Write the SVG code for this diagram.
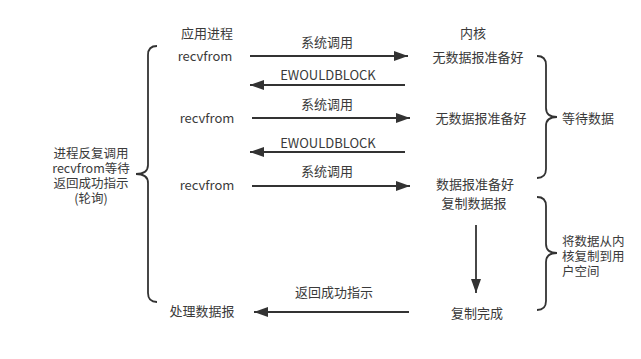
<svg xmlns="http://www.w3.org/2000/svg" width="641" height="359" viewBox="0 0 641 359">
<style>
text{font-family:"Noto Sans CJK SC","Noto Sans",sans-serif;font-size:13px;fill:#3a3a3a;dominant-baseline:central;text-anchor:middle}
.l{text-anchor:start}
.m{font-size:12.5px}
.c{stroke:#333;stroke-width:1.8;fill:none}
.b{stroke:#333;stroke-width:1.8;fill:none}
</style>
<defs>
<marker id="ah" viewBox="0 0 14 10" refX="14" refY="5" markerWidth="14" markerHeight="10" markerUnits="userSpaceOnUse" orient="auto">
<path d="M0,0 L14,5 L0,10 Z" fill="#333"/>
</marker>
</defs>
<rect width="641" height="359" fill="#fff"/>
<g id="headers">
<text x="207" y="32">应用进程</text>
<text x="473" y="32">内核</text>
</g>
<g id="app">
<text x="205" y="55">recvfrom</text>
<text x="207" y="117">recvfrom</text>
<text x="207" y="184">recvfrom</text>
<text x="202" y="310">处理数据报</text>
</g>
<g id="kernel">
<text x="478" y="56">无数据报准备好</text>
<text x="481" y="117">无数据报准备好</text>
<text x="475" y="183">数据报准备好</text>
<text x="474" y="202">复制数据报</text>
<text x="477" y="312">复制完成</text>
</g>
<g id="labels">
<text x="327" y="41">系统调用</text>
<text x="328" y="74">EWOULDBLOCK</text>
<text x="327" y="103">系统调用</text>
<text x="328" y="142">EWOULDBLOCK</text>
<text x="327" y="170">系统调用</text>
<text x="334" y="291">返回成功指示</text>
</g>
<g id="left-note">
<path class="b" d="M157,46 Q148,46 148,55 L148,165 Q148,174 136,174 Q148,174 148,183 L148,293 Q148,302 157,302"/>
<text class="m" x="91" y="152">进程反复调用</text>
<text class="m" x="91" y="167">recvfrom等待</text>
<text class="m" x="91" y="182">返回成功指示</text>
<text class="m" x="91" y="197">(轮询)</text>
</g>
<g id="wait-note">
<path class="b" d="M537,56 Q546,56 546,65 L546,108 Q546,117 557,117 Q546,117 546,126 L546,169 Q546,178 537,178"/>
<text class="l" x="562" y="117">等待数据</text>
</g>
<g id="copy-note">
<path class="b" d="M537,197 Q546,197 546,206 L546,244 Q546,253 557,253 Q546,253 546,262 L546,301 Q546,310 537,310"/>
<text class="l m" x="562" y="240">将数据从内</text>
<text class="l m" x="562" y="255">核复制到用</text>
<text class="l m" x="562" y="270">户空间</text>
</g>
<g id="connectors">
<line class="c" x1="250" y1="56" x2="408" y2="56" marker-end="url(#ah)"/>
<line class="c" x1="405" y1="85" x2="250" y2="85" marker-end="url(#ah)"/>
<line class="c" x1="252" y1="118" x2="410" y2="118" marker-end="url(#ah)"/>
<line class="c" x1="405" y1="152" x2="250" y2="152" marker-end="url(#ah)"/>
<line class="c" x1="252" y1="186" x2="410" y2="186" marker-end="url(#ah)"/>
<line class="c" x1="476" y1="225" x2="476" y2="293" marker-end="url(#ah)"/>
<line class="c" x1="409" y1="312" x2="254" y2="312" marker-end="url(#ah)"/>
</g>
</svg>
